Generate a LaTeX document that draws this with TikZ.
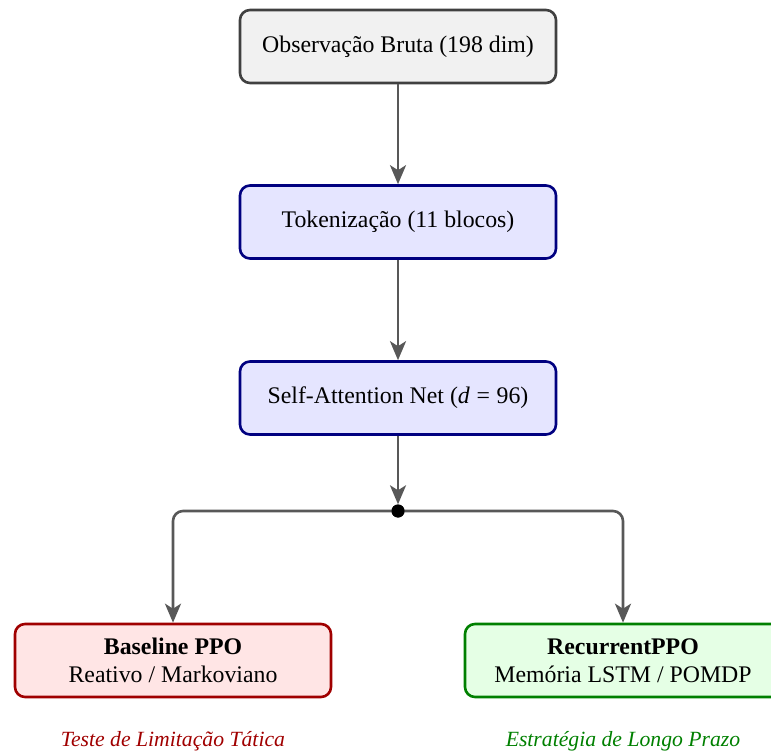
\documentclass[tikz,border=0pt]{standalone}
\usepackage{fontspec}
\setmainfont{Liberation Serif}
\usetikzlibrary{arrows.meta}

\definecolor{edgegray}{HTML}{585858}
\definecolor{rawfill}{HTML}{F1F1F1}
\definecolor{rawdraw}{HTML}{404040}
\definecolor{netfill}{HTML}{E5E5FF}
\definecolor{netdraw}{HTML}{000080}
\definecolor{basefill}{HTML}{FFE5E5}
\definecolor{basedraw}{HTML}{A00000}
\definecolor{recfill}{HTML}{E5FFE5}
\definecolor{recdraw}{HTML}{008000}

\tikzset{
  box/.style={rectangle, rounded corners=10pt, line width=2.6pt,
    minimum width=316pt, minimum height=73pt, align=center,
    font=\fontsize{23.8}{28}\selectfont},
  rawbox/.style={box, draw=rawdraw, fill=rawfill},
  netbox/.style={box, draw=netdraw, fill=netfill},
  basebox/.style={box, draw=basedraw, fill=basefill},
  recbox/.style={box, draw=recdraw, fill=recfill},
  flow/.style={draw=edgegray, line width=2.6pt,
    -{Stealth[length=19pt, width=16pt, inset=5pt]}},
  junction/.style={circle, fill=black, inner sep=0pt, minimum size=13pt},
  caption/.style={font=\fontsize{21.7}{26}\selectfont\itshape}
}

\begin{document}
\begin{tikzpicture}[x=1pt, y=-1pt]
  \useasboundingbox (0,0) rectangle (771,751);

  % pipeline
  \node[rawbox] (obs) at (398,46.5) {Observação Bruta (198 dim)};
  \node[netbox] (tok) at (398,222) {Tokenização (11 blocos)};
  \node[netbox] (att) at (398,398) {Self-Attention Net (\textit{d}\hspace{0.28em}=\hspace{0.28em}96)};
  \node[junction] (split) at (398,511) {};

  % the two policies
  \node[basebox] (base) at (173,660.5) {\textbf{Baseline PPO}\\[0pt]Reativo / Markoviano};
  \node[recbox] (rec) at (623,660.5) {\textbf{RecurrentPPO}\\[0pt]Memória LSTM / POMDP};

  \node[caption, text=basedraw] (capbase) at (173,741) {Teste de Limitação Tática};
  \node[caption, text=recdraw] (caprec) at (623,741) {Estratégia de Longo Prazo};

  % connectors
  \draw[flow] (obs) -- (tok);
  \draw[flow] (tok) -- (att);
  \draw[flow] (att) -- (split);
  \draw[flow, rounded corners=10pt] (split.center) -| (base.north);
  \draw[flow, rounded corners=10pt] (split.center) -| (rec.north);
  \node[junction] at (split) {};
\end{tikzpicture}
\end{document}
